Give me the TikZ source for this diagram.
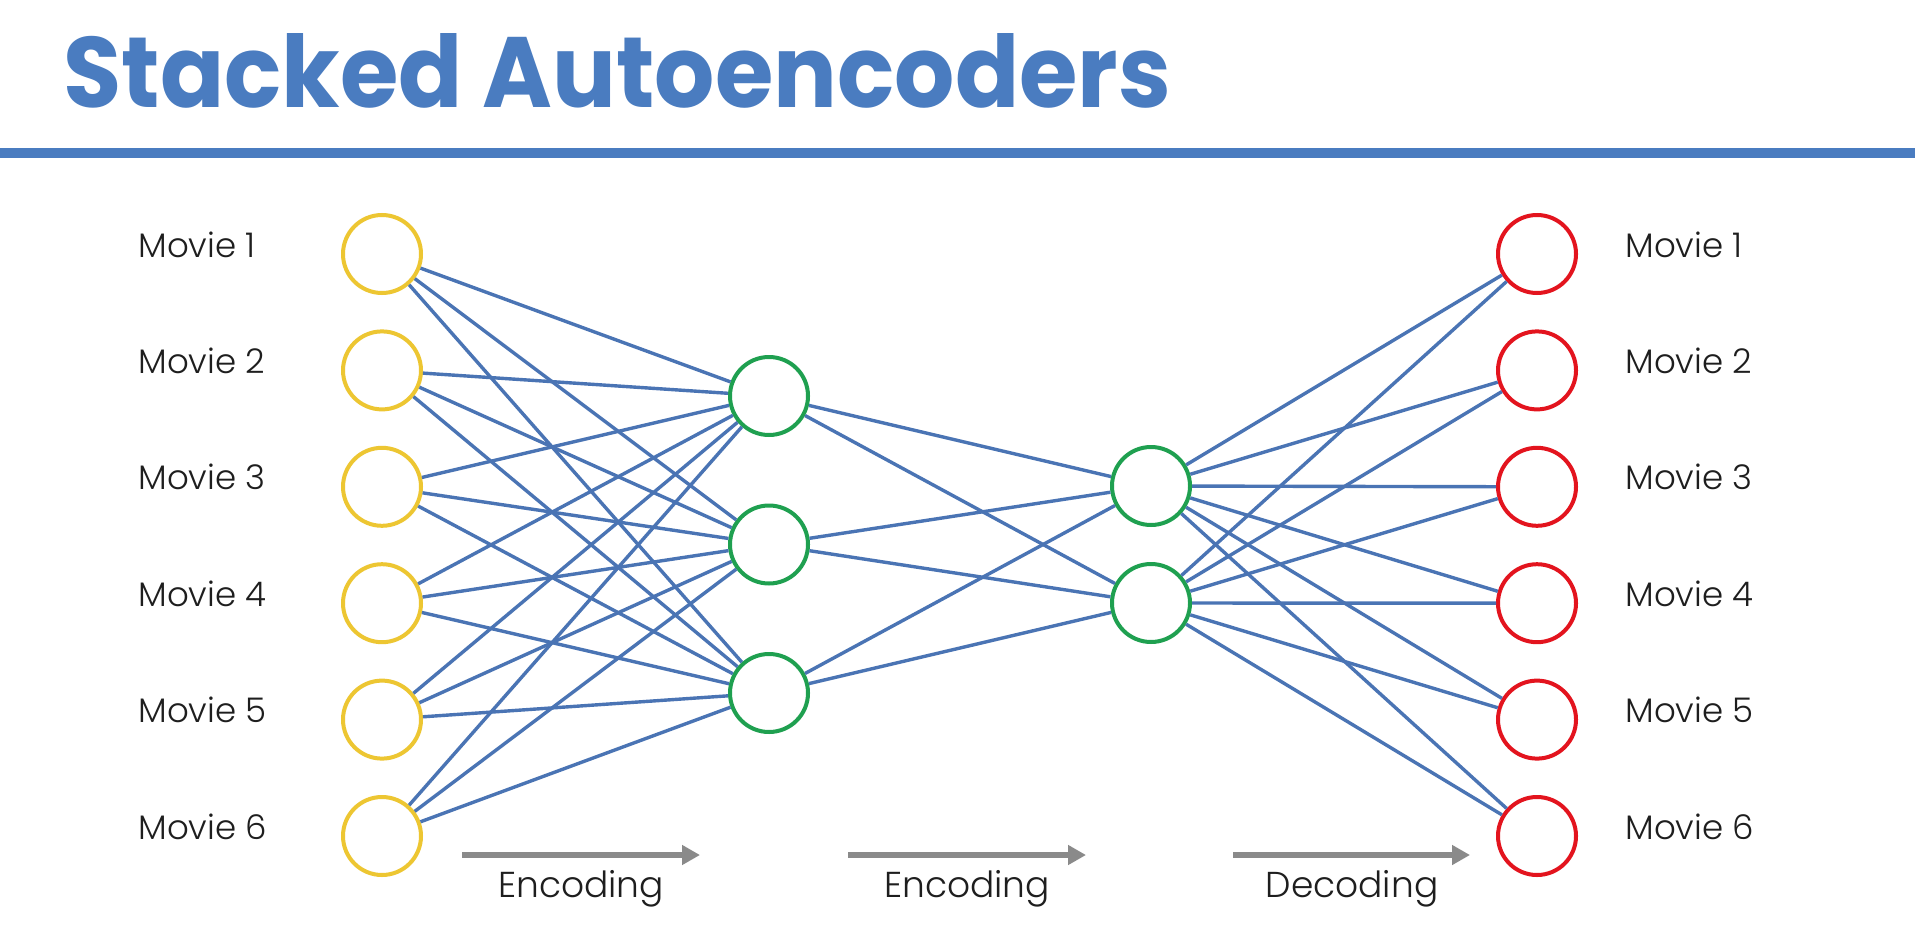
\documentclass[tikz,border=0pt]{standalone}
\usepackage{fontspec}
\setmainfont{Poppins}
\newfontfamily\labfont{Poppins Light}
\usetikzlibrary{arrows.meta}
\definecolor{titleblue}{HTML}{4A7CC0}
\definecolor{edgeblue}{HTML}{4A74B4}
\definecolor{inyellow}{HTML}{EDC632}
\definecolor{hidgreen}{HTML}{1FA050}
\definecolor{outred}{HTML}{E3141E}
\definecolor{arrowgray}{HTML}{8A8A8A}
\definecolor{labgray}{HTML}{1E1E1E}
\begin{document}
\begin{tikzpicture}[x=0.5pt,y=-0.5pt,
  neuron/.style={circle,draw,fill=white,line width=2pt,minimum size=39pt,inner sep=0pt},
  inneuron/.style={neuron,draw=inyellow},
  hidneuron/.style={neuron,draw=hidgreen},
  outneuron/.style={neuron,draw=outred},
  wire/.style={draw=edgeblue,line width=1.7pt},
  movielabel/.style={anchor=base west,inner sep=0pt,text=labgray,font=\labfont\fontsize{17pt}{20pt}\selectfont},
  phaselabel/.style={anchor=base,inner sep=0pt,text=labgray,font=\labfont\fontsize{18pt}{21pt}\selectfont},
  phasearrow/.style={draw=arrowgray,line width=3pt,-{Triangle[length=9pt,width=9.5pt]}},
  titletext/.style={anchor=base west,inner sep=0pt,text=titleblue,xscale=0.947,font=\bfseries\fontsize{50pt}{60pt}\selectfont}
]
\useasboundingbox (0,0) rectangle (1915,947);
\fill[white] (0,0) rectangle (1915,947);
% title and rule
\node[titletext] (title) at (63,108) {Stacked Autoencoders};
\fill[titleblue] (0,148) rectangle (1915,158);
% neurons
\foreach \k in {1,...,6} {
  \pgfmathsetmacro{\yy}{254+116.4*(\k-1)}
  \node[inneuron] (y\k) at (382,\yy) {};
  \node[outneuron] (r\k) at (1537,\yy) {};
  \node[movielabel] (li\k) at (138,\yy+3) {Movie \k};
  \node[movielabel] (lo\k) at (1625,\yy+3) {Movie \k};
}
\foreach \k in {1,2,3} {
  \pgfmathsetmacro{\yy}{396+148.5*(\k-1)}
  \node[hidneuron] (g\k) at (769,\yy) {};
}
\node[hidneuron] (h1) at (1151,486) {};
\node[hidneuron] (h2) at (1151,603) {};
% connections
\foreach \i in {1,...,6} \foreach \j in {1,2,3} \draw[wire] (y\i) -- (g\j);
\foreach \i in {1,2,3} \foreach \j in {1,2} \draw[wire] (g\i) -- (h\j);
\foreach \i in {1,2} \foreach \j in {1,...,6} \draw[wire] (h\i) -- (r\j);
% phase arrows
\coordinate (a1s) at (462,855); \coordinate (a1e) at (700,855);
\coordinate (a2s) at (848,855); \coordinate (a2e) at (1086,855);
\coordinate (a3s) at (1233,855); \coordinate (a3e) at (1470,855);
\draw[phasearrow] (a1s) -- (a1e);
\draw[phasearrow] (a2s) -- (a2e);
\draw[phasearrow] (a3s) -- (a3e);
\node[phaselabel] (p1) at (581,897) {Encoding};
\node[phaselabel] (p2) at (967,897) {Encoding};
\node[phaselabel] (p3) at (1352,897) {Decoding};
\end{tikzpicture}
\end{document}
